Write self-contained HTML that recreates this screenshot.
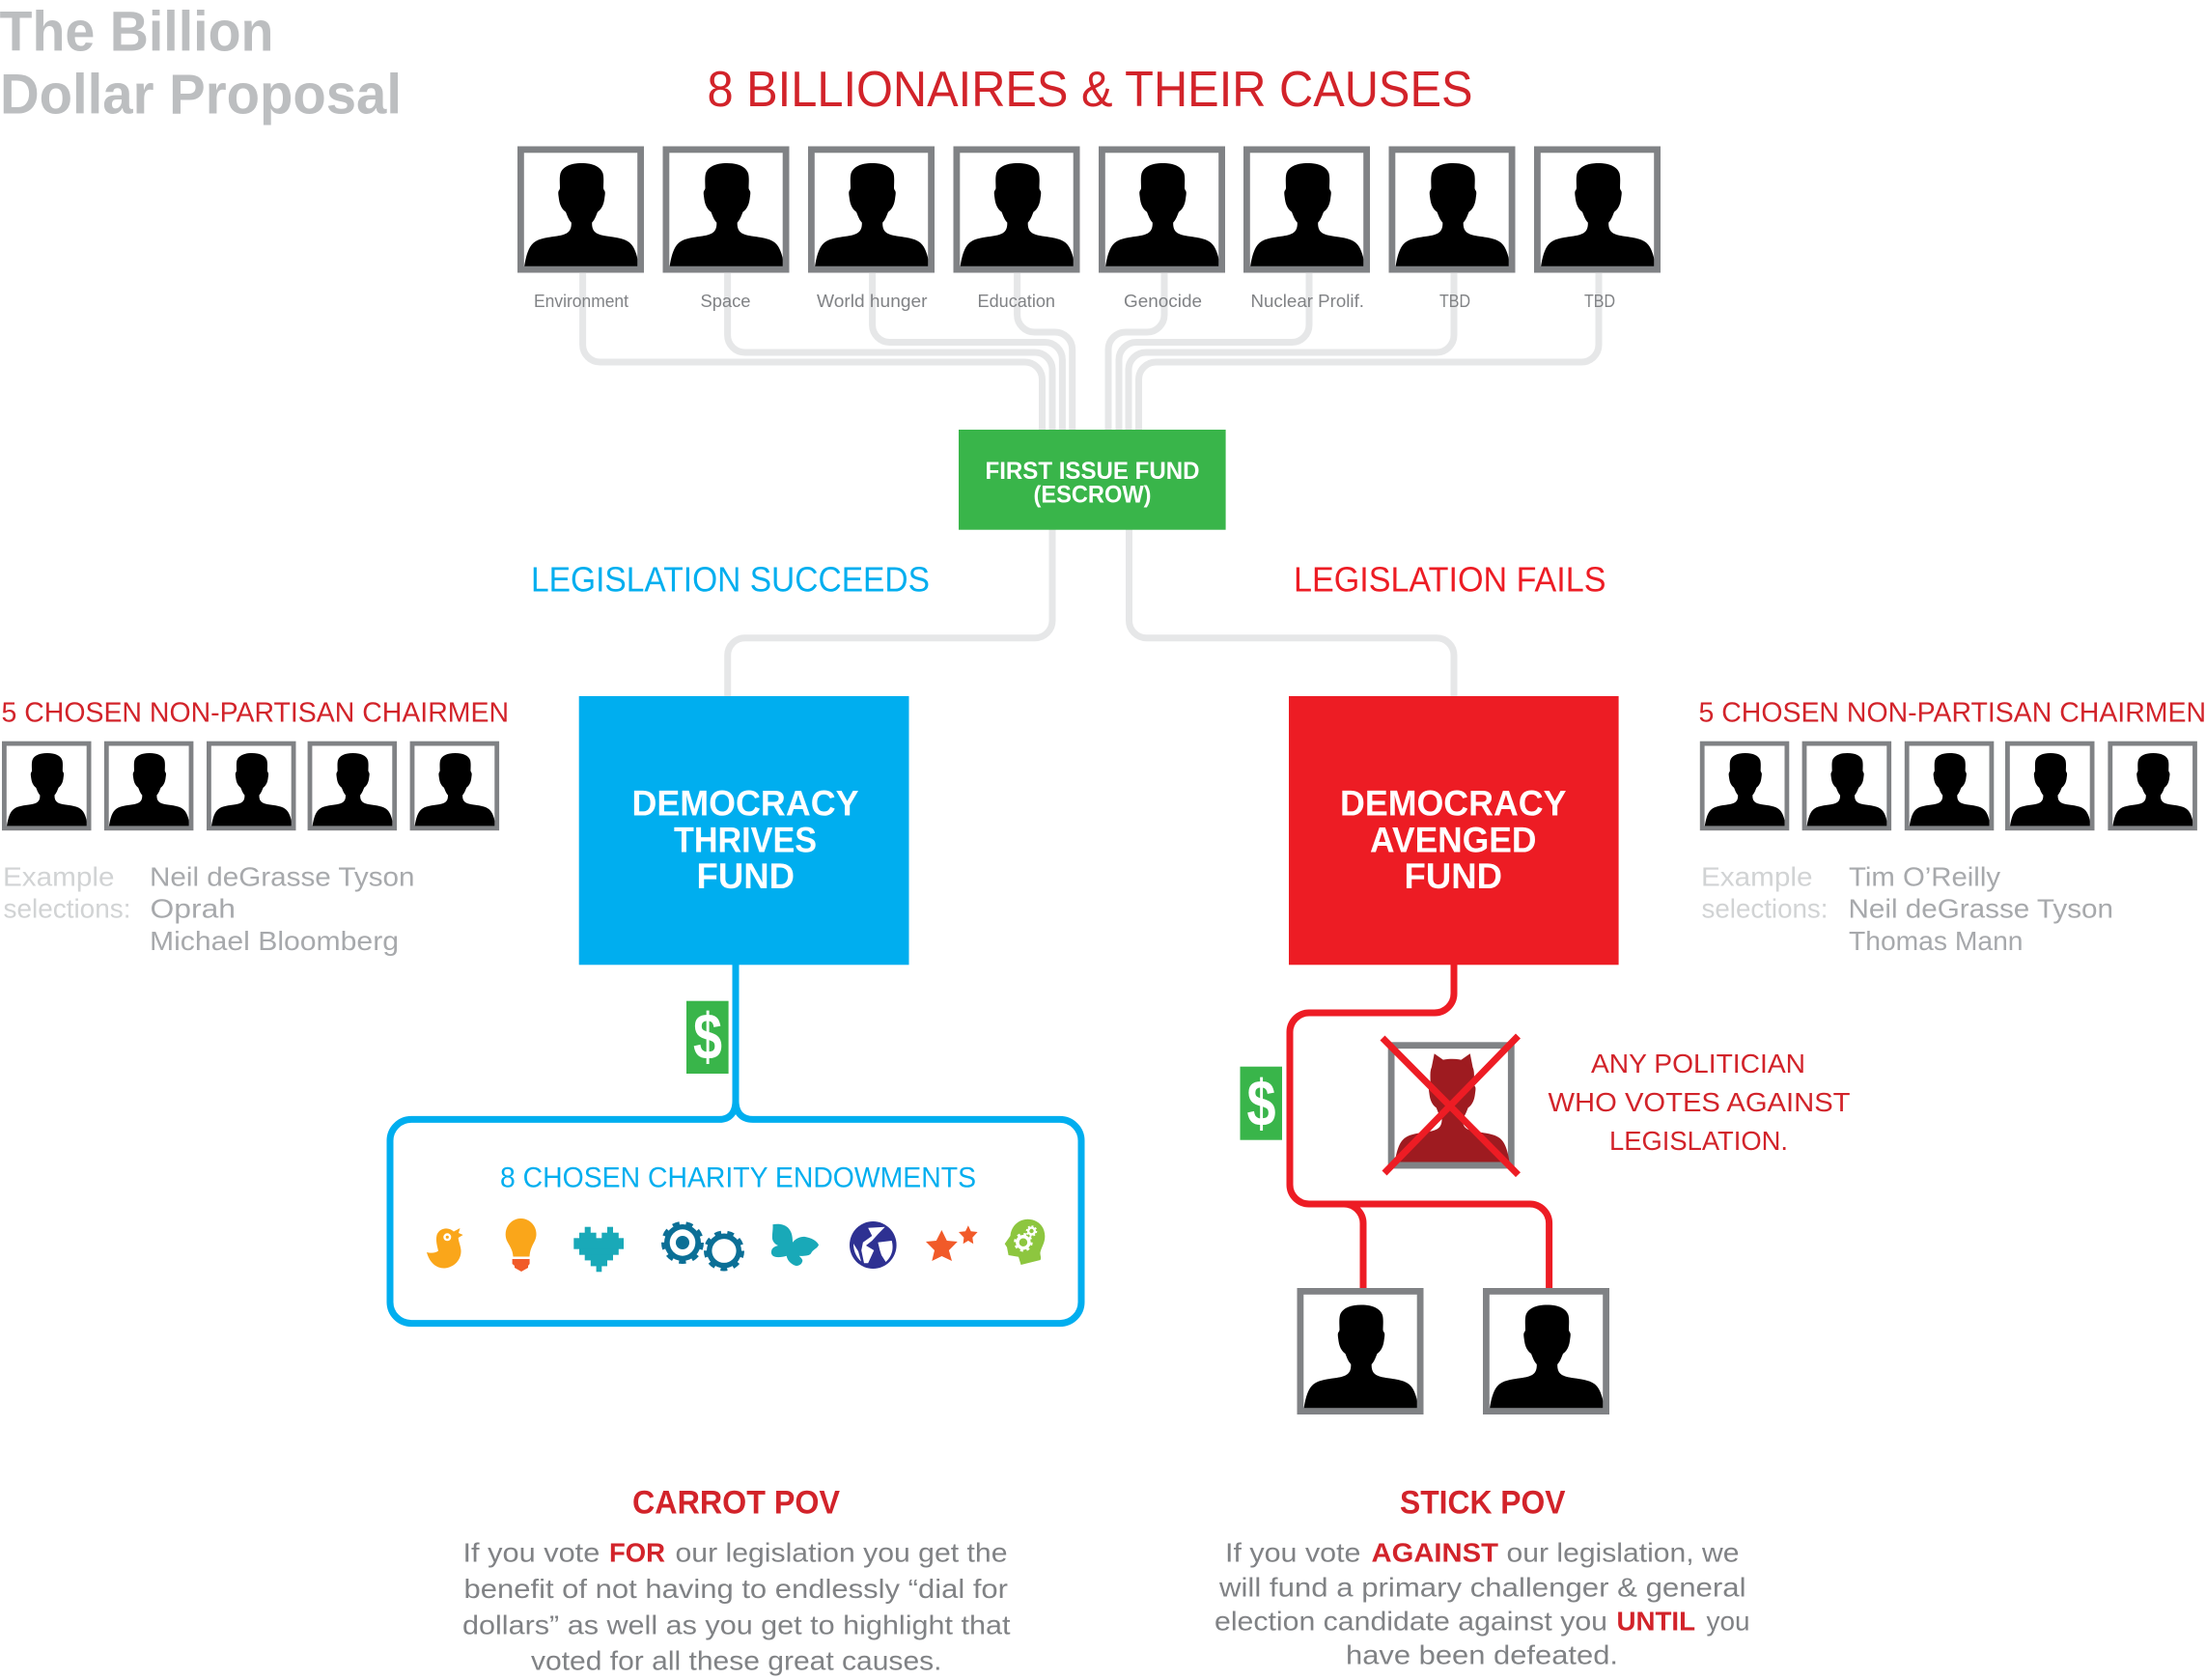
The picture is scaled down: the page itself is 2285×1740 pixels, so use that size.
<!DOCTYPE html>
<html lang="en">
<head>
<meta charset="utf-8">
<title>The Billion Dollar Proposal</title>
<style>
html,body{margin:0;padding:0;background:#fff;}
svg{display:block;}
text{font-family:"Liberation Sans",Arial,sans-serif;}
.b{font-weight:700;}
.r{fill:#d2232a;}
.g{fill:#808285;}
.lbl{font-size:18.5px;fill:#808285;}
.ex{font-size:28px;fill:#d1d3d4;}
.nm{font-size:28px;fill:#a7a9ac;}
.ch{font-size:28.5px;fill:#d2232a;}
.bd{font-size:28px;fill:#808285;}
.bb{font-size:28px;fill:#d2232a;font-weight:700;}
.w{fill:#fff;font-weight:700;}
.gl{fill:none;stroke:#e6e7e8;stroke-width:7;}
.bl{fill:none;stroke:#00aeef;stroke-width:7;}
.rl{fill:none;stroke:#ed1c24;stroke-width:7;}
</style>
</head>
<body>
<svg xmlns="http://www.w3.org/2000/svg" width="2285" height="1740" viewBox="0 0 2285 1740">
<defs>
<path id="sil" d="M7,125 C9,112 12,103 18,99 C25,94 38,94 46,92 C53,90 56,87 55.8,79 C53,76 52,73 50,68 C47,66 44,62 43,55 C42.5,51 42,49 42.4,47 C42.8,45.5 44,45 44,43 C43.8,36 43.5,32 44.5,28 C47,21 55,17.5 66.5,17.5 C78,17.5 86,21 88.5,28 C89.5,32 89.2,36 89,43 C89,45 90.2,45.5 90.6,47 C91,49 90.5,51 90,55 C89,62 86,66 83,68 C81,73 80,76 77.2,79 C77,87 80,90 87,92 C95,94 108,94 115,99 C121,103 124,112 126,125 Z"/>
<g id="p">
<rect x="0" y="0" width="131" height="131" fill="#fff"/>
<use href="#sil" fill="#000"/>
<rect x="3.4" y="3.4" width="124.2" height="124.2" fill="none" stroke="#808285" stroke-width="6.8"/>
</g>
</defs>

<rect width="2285" height="1740" fill="#fff"/>

<!-- Title -->
<text class="b" x="-0.5" y="52.7" font-size="58" fill="#bcbec0" textLength="284" lengthAdjust="spacingAndGlyphs">The Billion</text>
<text class="b" x="0" y="117.7" font-size="58" fill="#bcbec0" textLength="416" lengthAdjust="spacingAndGlyphs">Dollar Proposal</text>
<text class="r" x="732.5" y="110" font-size="52" textLength="793" lengthAdjust="spacingAndGlyphs">8 BILLIONAIRES &amp; THEIR CAUSES</text>

<!-- Gray connectors -->
<path class="gl" d="M603.6,283 V357 a18,18 0 0 0 18,18 H1061.5 a18,18 0 0 1 18,18 V445"/>
<path class="gl" d="M753.6,283 V347 a18,18 0 0 0 18,18 H1072 a18,18 0 0 1 18,18 V445"/>
<path class="gl" d="M903.6,283 V336.5 a18,18 0 0 0 18,18 H1082.4 a18,18 0 0 1 18,18 V445"/>
<path class="gl" d="M1053.6,283 V326 a18,18 0 0 0 18,18 H1092.7 a18,18 0 0 1 18,18 V445"/>
<path class="gl" d="M1206,283 V326 a18,18 0 0 1 -18,18 H1166 a18,18 0 0 0 -18,18 V445"/>
<path class="gl" d="M1356,283 V336.5 a18,18 0 0 1 -18,18 H1177 a18,18 0 0 0 -18,18 V445"/>
<path class="gl" d="M1506,283 V347 a18,18 0 0 1 -18,18 H1187 a18,18 0 0 0 -18,18 V445"/>
<path class="gl" d="M1656,283 V357 a18,18 0 0 1 -18,18 H1197.5 a18,18 0 0 0 -18,18 V445"/>
<path class="gl" d="M1090,548 V642.7 a18,18 0 0 1 -18,18 H771.7 a18,18 0 0 0 -18,18 V721"/>
<path class="gl" d="M1169.5,548 V642.7 a18,18 0 0 0 18,18 H1488 a18,18 0 0 1 18,18 V721"/>

<!-- Top frames -->
<use href="#p" x="536" y="151.5"/>
<use href="#p" x="686.5" y="151.5"/>
<use href="#p" x="837" y="151.5"/>
<use href="#p" x="987.5" y="151.5"/>
<use href="#p" x="1138" y="151.5"/>
<use href="#p" x="1288" y="151.5"/>
<use href="#p" x="1438.5" y="151.5"/>
<use href="#p" x="1589" y="151.5"/>

<text class="lbl" x="553" y="318" textLength="98" lengthAdjust="spacingAndGlyphs">Environment</text>
<text class="lbl" x="725.5" y="318" textLength="52" lengthAdjust="spacingAndGlyphs">Space</text>
<text class="lbl" x="846" y="318" textLength="114.5" lengthAdjust="spacingAndGlyphs">World hunger</text>
<text class="lbl" x="1012.5" y="318" textLength="80.5" lengthAdjust="spacingAndGlyphs">Education</text>
<text class="lbl" x="1164" y="318" textLength="81" lengthAdjust="spacingAndGlyphs">Genocide</text>
<text class="lbl" x="1295.5" y="318" textLength="117.5" lengthAdjust="spacingAndGlyphs">Nuclear Prolif.</text>
<text class="lbl" x="1491" y="318" textLength="32" lengthAdjust="spacingAndGlyphs">TBD</text>
<text class="lbl" x="1641" y="318" textLength="32" lengthAdjust="spacingAndGlyphs">TBD</text>

<!-- Green box -->
<rect x="993" y="445" width="276.6" height="103.7" fill="#39b54a"/>
<text class="w" x="1020.5" y="496" font-size="25" textLength="222" lengthAdjust="spacingAndGlyphs">FIRST ISSUE FUND</text>
<text class="w" x="1070.5" y="520.7" font-size="25" textLength="122" lengthAdjust="spacingAndGlyphs">(ESCROW)</text>

<text x="550" y="612.7" font-size="36" fill="#00aeef" textLength="413" lengthAdjust="spacingAndGlyphs">LEGISLATION SUCCEEDS</text>
<text x="1340" y="612.7" font-size="36" fill="#ed1c24" textLength="323.5" lengthAdjust="spacingAndGlyphs">LEGISLATION FAILS</text>

<!-- Left chairmen -->
<text class="ch" x="1.5" y="747.7" textLength="525.5" lengthAdjust="spacingAndGlyphs">5 CHOSEN NON-PARTISAN CHAIRMEN</text>
<g transform="translate(2,767.7) scale(.706)"><use href="#p"/></g>
<g transform="translate(107.9,767.7) scale(.706)"><use href="#p"/></g>
<g transform="translate(214,767.7) scale(.706)"><use href="#p"/></g>
<g transform="translate(318.6,767.7) scale(.706)"><use href="#p"/></g>
<g transform="translate(424.6,767.7) scale(.706)"><use href="#p"/></g>
<text class="ex" x="3" y="917.3" textLength="115.5" lengthAdjust="spacingAndGlyphs">Example</text>
<text class="ex" x="3.5" y="950.7" textLength="132" lengthAdjust="spacingAndGlyphs">selections:</text>
<text class="nm" x="155" y="917.3" textLength="274.5" lengthAdjust="spacingAndGlyphs">Neil deGrasse Tyson</text>
<text class="nm" x="155.5" y="950.7" textLength="88.5" lengthAdjust="spacingAndGlyphs">Oprah</text>
<text class="nm" x="155" y="984" textLength="258" lengthAdjust="spacingAndGlyphs">Michael Bloomberg</text>

<!-- Right chairmen -->
<text class="ch" x="1759.5" y="747.7" textLength="525.5" lengthAdjust="spacingAndGlyphs">5 CHOSEN NON-PARTISAN CHAIRMEN</text>
<g transform="translate(1760.8,767.7) scale(.706)"><use href="#p"/></g>
<g transform="translate(1866.6,767.7) scale(.706)"><use href="#p"/></g>
<g transform="translate(1972.8,767.7) scale(.706)"><use href="#p"/></g>
<g transform="translate(2077,767.7) scale(.706)"><use href="#p"/></g>
<g transform="translate(2183.4,767.7) scale(.706)"><use href="#p"/></g>
<text class="ex" x="1762" y="917.3" textLength="115.5" lengthAdjust="spacingAndGlyphs">Example</text>
<text class="ex" x="1762.5" y="950.7" textLength="131" lengthAdjust="spacingAndGlyphs">selections:</text>
<text class="nm" x="1915" y="917.3" textLength="157" lengthAdjust="spacingAndGlyphs">Tim O’Reilly</text>
<text class="nm" x="1914.5" y="950.7" textLength="274.5" lengthAdjust="spacingAndGlyphs">Neil deGrasse Tyson</text>
<text class="nm" x="1915" y="984" textLength="180.5" lengthAdjust="spacingAndGlyphs">Thomas Mann</text>

<!-- Blue box -->
<rect x="599.7" y="721" width="341.8" height="278.3" fill="#00aeef"/>
<text class="w" x="654.5" y="844.5" font-size="37" textLength="235" lengthAdjust="spacingAndGlyphs">DEMOCRACY</text>
<text class="w" x="698" y="882.7" font-size="37" textLength="148" lengthAdjust="spacingAndGlyphs">THRIVES</text>
<text class="w" x="721.5" y="920" font-size="37" textLength="101.5" lengthAdjust="spacingAndGlyphs">FUND</text>

<!-- Red box -->
<rect x="1335" y="721" width="341.6" height="278.3" fill="#ed1c24"/>
<text class="w" x="1388" y="844.5" font-size="37" textLength="234.5" lengthAdjust="spacingAndGlyphs">DEMOCRACY</text>
<text class="w" x="1419" y="882.7" font-size="37" textLength="172.5" lengthAdjust="spacingAndGlyphs">AVENGED</text>
<text class="w" x="1454.5" y="920" font-size="37" textLength="101.5" lengthAdjust="spacingAndGlyphs">FUND</text>

<!-- Blue connectors + charity box -->
<path class="bl" d="M762,999 V1140 C762,1152 756,1159.4 745,1159.4 H426 a22,22 0 0 0 -22,22 V1348.6 a22,22 0 0 0 22,22 H1098 a22,22 0 0 0 22,-22 V1181.4 a22,22 0 0 0 -22,-22 H780 C768,1159.4 762,1152 762,1140"/>
<rect x="711" y="1036.7" width="43.6" height="75.3" fill="#39b54a"/>
<text class="w" x="718" y="1097" font-size="68" textLength="30" lengthAdjust="spacingAndGlyphs">$</text>
<text x="518" y="1229.3" font-size="30" fill="#00aeef" textLength="493" lengthAdjust="spacingAndGlyphs">8 CHOSEN CHARITY ENDOWMENTS</text>

<!-- Icons -->
<path fill="#faa61a" d="M442,1297 C445,1308 452,1313.5 460,1313.5 C470,1313 478,1305 477.5,1295 C477,1290 475,1286 474.7,1282 L479.6,1279 L475,1277 L476.5,1272 L470,1275.5 C464,1270 455,1272 452.5,1279 C451,1285 453,1291 454,1295.5 C451,1298 446,1298 442,1297 Z"/>
<circle cx="463.3" cy="1281.3" r="4" fill="#fff"/><circle cx="463.3" cy="1281.3" r="1.6" fill="#faa61a"/>

<path fill="#faa61a" d="M531.5,1301.5 C531,1294 528,1291 525,1285 C520.5,1274 528,1262 539.5,1262 C551,1262 559,1274 554,1285 C551,1291 549,1294 548.5,1301.5 Z"/>
<path fill="#f15a29" d="M530.6,1304 H548.6 V1309 L547,1311 V1313 L540,1317 L533,1313 V1311 L530.6,1309 Z"/>

<g fill="#19a9b8">
<rect x="605.7" y="1270.7" width="6.1" height="6.5"/><rect x="629" y="1270.7" width="6" height="6.5"/>
<rect x="600" y="1276.7" width="17.6" height="6"/><rect x="623.3" y="1276.7" width="17.5" height="6"/>
<rect x="594.3" y="1282.3" width="51.7" height="11.4"/>
<rect x="600" y="1293.3" width="40.8" height="6.4"/>
<rect x="605.7" y="1299.3" width="29.3" height="6.1"/>
<rect x="611.8" y="1305" width="17.2" height="6.4"/>
<rect x="617.6" y="1311" width="5.7" height="6.3"/>
</g>

<g fill="#0b6f96" stroke="none">
<circle cx="707" cy="1287" r="19"/>
<circle cx="707" cy="1287" r="19.5" fill="none" stroke="#0b6f96" stroke-width="5" stroke-dasharray="7 6.6"/>
<ellipse cx="707" cy="1287" rx="13.3" ry="13.7" fill="#fff"/>
<ellipse cx="707" cy="1287" rx="7" ry="7"/>
<circle cx="750" cy="1295.5" r="18"/>
<circle cx="750" cy="1295.5" r="18.5" fill="none" stroke="#0b6f96" stroke-width="5" stroke-dasharray="6.7 6.2"/>
<ellipse cx="750" cy="1295.5" rx="12.6" ry="12.4" fill="#fff"/>
</g>

<path fill="#19a9b8" d="M800.4,1268.3 C808,1266.5 815,1269 817.6,1273.3 C820.5,1277 821,1282 821,1286.7 C825,1282 830,1280.5 834,1281 C840,1282 846,1285 848,1289.3 C847,1293 842,1294 840,1298.3 C838,1301 832,1301 827.8,1300.7 C830,1303 832,1305 831,1306.7 C830,1310 827,1311 824.5,1311 C820,1310 817,1306 816.3,1305 C815.5,1303.5 815,1302 814.7,1300.7 C810,1302 806,1302.5 803,1301.7 C799.5,1301 798.5,1298 799,1296 C799.5,1292 803,1291 806,1290 C803,1289 800.5,1286 800,1283 C799.5,1278 801,1273 800.4,1268.3 Z"/>

<ellipse cx="904.3" cy="1289.5" rx="24.3" ry="24.5" fill="#2e3192"/>
<g fill="#fff">
<path d="M899.2,1271.7 L916.7,1270.7 L909.4,1278.3 L903.3,1285 L897,1290 L905.3,1295 L899.2,1308.3 L895,1308.3 L892.2,1295 L893.9,1286.7 L903.3,1280 Z"/>
<path d="M884,1288 L889,1296 L892,1306.5 C888,1303 884,1297 884,1288 Z"/>
<path d="M909.4,1286.7 L923.7,1285 C925.5,1292 925,1300 917.5,1307 L913,1300 L911.4,1295 Z"/>
</g>

<polygon fill="#f15a29" points="975.4,1274 980.8,1285 991.8,1286 982.9,1295 986,1306 975.5,1301 965.3,1306 968,1295 959,1286 969.8,1285"/>
<polygon fill="#f15a29" points="1002.9,1269.3 1005.7,1275.3 1012.6,1276 1007.3,1281.7 1008.2,1288.3 1002.9,1285 997.6,1288.3 998.4,1281.7 993,1276 1000,1275.3"/>

<path fill="#8dc63f" d="M1064.6,1262.7 C1075,1263 1082,1270 1082.3,1280 C1082.5,1287 1079,1291 1077.6,1296.7 C1077,1300 1079,1302 1077.6,1305 L1057.5,1310 L1055,1301.7 L1044.6,1300 L1043,1291.7 L1040.7,1288.3 L1046.5,1280 C1047,1272 1053,1263 1064.6,1262.7 Z"/>
<circle cx="1059.9" cy="1286.7" r="6" fill="none" stroke="#fff" stroke-width="3.5"/>
<circle cx="1059.9" cy="1286.7" r="8.5" fill="none" stroke="#fff" stroke-width="2.5" stroke-dasharray="3 3.7"/>
<circle cx="1068.5" cy="1275" r="3.4" fill="none" stroke="#fff" stroke-width="2.4"/>
<circle cx="1068.5" cy="1275" r="5" fill="none" stroke="#fff" stroke-width="1.6" stroke-dasharray="2 1.9"/>

<!-- Red connectors -->
<path class="rl" d="M1506,999 V1029 a20,20 0 0 1 -20,20 H1356 a20,20 0 0 0 -20,20 V1227 a20,20 0 0 0 20,20 H1584.6 a20,20 0 0 1 20,20 V1334"/>
<path class="rl" d="M1392,1247 a20,20 0 0 1 20,20 V1334"/>
<rect x="1284.5" y="1104.7" width="43.5" height="76" fill="#39b54a"/>
<text class="w" x="1291.5" y="1166" font-size="68" textLength="30" lengthAdjust="spacingAndGlyphs">$</text>

<!-- Devil -->
<g transform="translate(1437.7,1079.3)">
<rect x="3.4" y="3.4" width="124.2" height="124.2" fill="#fff" stroke="#808285" stroke-width="6.8"/>
<use href="#sil" fill="#9e1b20"/>
<polygon fill="#9e1b20" points="48,12 44,32 58,19"/>
<polygon fill="#9e1b20" points="85,12 89,32 75,19"/>
<rect x="3.4" y="124.2" width="124.2" height="6.8" fill="#808285"/>
</g>
<line x1="1432" y1="1075" x2="1572.5" y2="1216.7" stroke="#ed1c24" stroke-width="7"/>
<line x1="1572.5" y1="1073" x2="1434" y2="1215" stroke="#ed1c24" stroke-width="7"/>

<text class="r" x="1648" y="1111.2" font-size="28" textLength="222" lengthAdjust="spacingAndGlyphs">ANY POLITICIAN</text>
<text class="r" x="1603.5" y="1151.2" font-size="28" textLength="313" lengthAdjust="spacingAndGlyphs">WHO VOTES AGAINST</text>
<text class="r" x="1667" y="1191.2" font-size="28" textLength="185" lengthAdjust="spacingAndGlyphs">LEGISLATION.</text>

<!-- Bottom frames -->
<use href="#p" x="1343.5" y="1334"/>
<use href="#p" x="1536" y="1334"/>

<!-- Carrot -->
<text class="r b" x="655" y="1567.7" font-size="34" textLength="215" lengthAdjust="spacingAndGlyphs">CARROT POV</text>
<text class="bd" x="479.5" y="1617.7" textLength="141.8" lengthAdjust="spacingAndGlyphs">If you vote</text>
<text class="bb" x="631" y="1617.7" textLength="58" lengthAdjust="spacingAndGlyphs">FOR</text>
<text class="bd" x="699.5" y="1617.7" textLength="344" lengthAdjust="spacingAndGlyphs">our legislation you get the</text>
<text class="bd" x="480.5" y="1655" textLength="563.5" lengthAdjust="spacingAndGlyphs">benefit of not having to endlessly “dial for</text>
<text class="bd" x="479" y="1692.3" textLength="567.5" lengthAdjust="spacingAndGlyphs">dollars” as well as you get to highlight that</text>
<text class="bd" x="550" y="1729.3" textLength="425.5" lengthAdjust="spacingAndGlyphs">voted for all these great causes.</text>

<!-- Stick -->
<text class="r b" x="1450" y="1567.7" font-size="34" textLength="171.5" lengthAdjust="spacingAndGlyphs">STICK POV</text>
<text class="bd" x="1269" y="1617.7" textLength="140.5" lengthAdjust="spacingAndGlyphs">If you vote</text>
<text class="bb" x="1420.5" y="1617.7" textLength="131.5" lengthAdjust="spacingAndGlyphs">AGAINST</text>
<text class="bd" x="1560.5" y="1617.7" textLength="241" lengthAdjust="spacingAndGlyphs">our legislation, we</text>
<text class="bd" x="1263" y="1653.3" textLength="545.5" lengthAdjust="spacingAndGlyphs">will fund a primary challenger &amp; general</text>
<text class="bd" x="1258" y="1688.3" textLength="407" lengthAdjust="spacingAndGlyphs">election candidate against you</text>
<text class="bb" x="1674.5" y="1688.3" textLength="81.5" lengthAdjust="spacingAndGlyphs">UNTIL</text>
<text class="bd" x="1767.5" y="1688.3" textLength="45" lengthAdjust="spacingAndGlyphs">you</text>
<text class="bd" x="1394" y="1723.3" textLength="282" lengthAdjust="spacingAndGlyphs">have been defeated.</text>
</svg>
</body>
</html>
